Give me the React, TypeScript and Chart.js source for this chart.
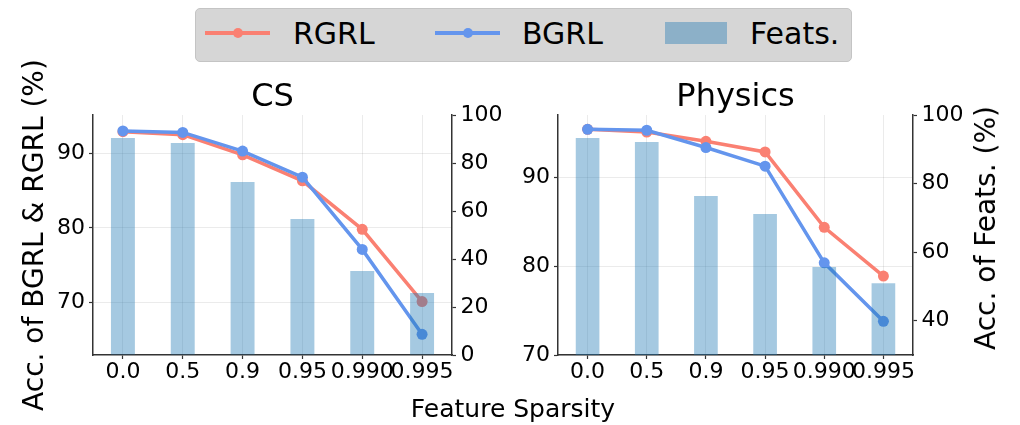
import React, { useEffect, useRef } from "react";
import { Chart, registerables } from "chart.js";

Chart.register(...registerables);

// Feature sparsity levels shared by both panels
const sparsityLabels = ["0.0", "0.5", "0.9", "0.95", "0.990", "0.995"];

// CS dataset
const csRGRL = [92.9, 92.5, 89.8, 86.3, 79.8, 70.1];
const csBGRL = [93.0, 92.8, 90.3, 86.8, 77.1, 65.7];
const csFeats = [90.4, 88.3, 72.1, 56.7, 35.0, 25.8];

// Physics dataset
const physicsRGRL = [95.45, 95.15, 94.1, 92.9, 84.4, 78.9];
const physicsBGRL = [95.45, 95.35, 93.4, 91.3, 80.4, 73.8];
const physicsFeats = [93.3, 92.1, 76.4, 71.1, 55.7, 50.9];

const FONT = "'DejaVu Sans', sans-serif";
const RGRL_COLOR = "#fa8072";
const BGRL_COLOR = "#6495ed";
const FEATS_COLOR = "rgba(31, 119, 180, 0.4)";
const AXIS_COLOR = "#333333";
const GRID_COLOR = "rgba(0, 0, 0, 0.08)";

const CANVAS_HEIGHT = 425;

type PanelSpec = {
  title: string;
  rgrl: number[];
  bgrl: number[];
  feats: number[];
  accRange: [number, number];
  featRange: [number, number];
  leftWidth: number;
  rightWidth: number;
  leftTitle?: string;
};

const panels: { spec: PanelSpec; left: number; width: number }[] = [
  {
    left: 0,
    width: 505,
    spec: {
      title: "CS",
      rgrl: csRGRL,
      bgrl: csBGRL,
      feats: csFeats,
      accRange: [62.93, 95.14],
      featRange: [0, 100],
      leftWidth: 93,
      rightWidth: 53,
      leftTitle: "Acc. of BGRL & RGRL (%)",
    },
  },
  {
    left: 505,
    width: 515,
    spec: {
      title: "Physics",
      rgrl: physicsRGRL,
      bgrl: physicsBGRL,
      feats: physicsFeats,
      accRange: [70, 97.07],
      featRange: [30, 100],
      leftWidth: 53,
      rightWidth: 107,
    },
  },
];

function lineDataset(label: string, data: number[], color: string, order: number) {
  return {
    type: "line" as const,
    label,
    data,
    yAxisID: "y",
    borderColor: color,
    backgroundColor: color,
    borderWidth: 3.5,
    pointRadius: 5.5,
    pointBackgroundColor: color,
    pointBorderWidth: 0,
    tension: 0,
    order,
  };
}

function buildConfig(spec: PanelSpec): any {
  const tickFont = { family: FONT, size: 22 };
  return {
    type: "bar",
    data: {
      labels: sparsityLabels,
      datasets: [
        {
          type: "bar",
          label: "Feats.",
          data: spec.feats,
          yAxisID: "y1",
          backgroundColor: FEATS_COLOR,
          borderWidth: 0,
          categoryPercentage: 1,
          barPercentage: 0.4,
          order: 0,
        },
        lineDataset("BGRL", spec.bgrl, BGRL_COLOR, 1),
        lineDataset("RGRL", spec.rgrl, RGRL_COLOR, 2),
      ],
    },
    options: {
      animation: false,
      responsive: false,
      maintainAspectRatio: false,
      layout: { padding: 0 },
      plugins: {
        legend: { display: false },
        tooltip: { enabled: false },
        title: {
          display: true,
          text: spec.title,
          fullSize: false,
          color: "#000",
          font: { family: FONT, size: 32, weight: "normal", lineHeight: 1 },
          padding: { top: 81.6, bottom: 1.4 },
        },
      },
      scales: {
        x: {
          type: "category",
          offset: true,
          grid: {
            color: GRID_COLOR,
            offset: false,
            drawTicks: true,
            tickLength: 4,
            tickColor: AXIS_COLOR,
            tickWidth: 1.2,
          },
          border: { display: true, color: AXIS_COLOR, width: 1.5 },
          ticks: {
            font: tickFont,
            color: "#000",
            padding: 0,
            autoSkip: false,
            maxRotation: 0,
            minRotation: 0,
          },
          afterFit: (s: any) => {
            s.height = 70;
          },
        },
        y: {
          type: "linear",
          position: "left",
          min: spec.accRange[0],
          max: spec.accRange[1],
          ticks: {
            stepSize: 10,
            includeBounds: false,
            font: tickFont,
            color: "#000",
            padding: 4,
          },
          grid: {
            color: GRID_COLOR,
            tickLength: 4,
            tickColor: AXIS_COLOR,
            tickWidth: 1.2,
          },
          border: { display: true, color: AXIS_COLOR, width: 1.5 },
          title: {
            display: !!spec.leftTitle,
            text: spec.leftTitle || "",
            color: "#000",
            font: { family: FONT, size: 28, lineHeight: 1.2 },
            padding: { top: 18.5, bottom: 0 },
          },
          afterFit: (s: any) => {
            s.width = spec.leftWidth;
          },
        },
        y1: {
          type: "linear",
          position: "right",
          min: spec.featRange[0],
          max: spec.featRange[1],
          ticks: {
            stepSize: 20,
            includeBounds: false,
            font: tickFont,
            color: "#000",
            padding: 4.5,
          },
          grid: {
            drawOnChartArea: false,
            tickLength: 4,
            tickColor: AXIS_COLOR,
            tickWidth: 1.2,
          },
          border: { display: true, color: AXIS_COLOR, width: 1.5 },
          afterFit: (s: any) => {
            s.width = spec.rightWidth;
          },
        },
      },
    },
  };
}

function Panel({ spec, left, width }: { spec: PanelSpec; left: number; width: number }) {
  const ref = useRef<HTMLCanvasElement>(null);
  useEffect(() => {
    if (!ref.current) return;
    const chart = new Chart(ref.current, buildConfig(spec));
    return () => chart.destroy();
  }, [spec]);
  return (
    <canvas
      ref={ref}
      width={width}
      height={CANVAS_HEIGHT}
      style={{ position: "absolute", left, top: 0, width, height: CANVAS_HEIGHT, display: "block" }}
    />
  );
}

const textStyle: React.CSSProperties = {
  position: "absolute",
  fontFamily: FONT,
  color: "#000",
  whiteSpace: "nowrap",
  lineHeight: 1,
};

function LegendLine({ x, color }: { x: number; color: string }) {
  return (
    <>
      <div
        style={{ position: "absolute", left: x, top: 30.5, width: 65, height: 4, background: color }}
      />
      <div
        style={{
          position: "absolute",
          left: x + 33 - 5,
          top: 32.5 - 5,
          width: 10,
          height: 10,
          borderRadius: "50%",
          background: color,
        }}
      />
    </>
  );
}

export default function App() {
  return (
    <div
      style={{
        position: "fixed",
        left: 0,
        top: 0,
        width: 1020,
        height: 425,
        background: "#fff",
        overflow: "hidden",
      }}
    >
      {panels.map((p) => (
        <Panel key={p.spec.title} spec={p.spec} left={p.left} width={p.width} />
      ))}

      {/* shared legend */}
      <div
        style={{
          position: "absolute",
          left: 195,
          top: 8,
          width: 655,
          height: 52,
          background: "#d6d6d6",
          border: "1px solid #c4c4c4",
          borderRadius: 5,
        }}
      />
      <LegendLine x={205} color={RGRL_COLOR} />
      <div style={{ ...textStyle, left: 293, top: 18.5, fontSize: 30 }}>RGRL</div>
      <LegendLine x={435} color={BGRL_COLOR} />
      <div style={{ ...textStyle, left: 522, top: 18.5, fontSize: 30 }}>BGRL</div>
      <div
        style={{ position: "absolute", left: 665, top: 22, width: 62, height: 22, background: FEATS_COLOR }}
      />
      <div style={{ ...textStyle, left: 750, top: 18.5, fontSize: 30 }}>Feats.</div>

      {/* shared x-axis title */}
      <div
        style={{
          ...textStyle,
          left: 513,
          top: 395.5,
          fontSize: 25,
          transform: "translateX(-50%)",
        }}
      >
        Feature Sparsity
      </div>

      {/* right-hand axis title, reading bottom to top */}
      <div
        style={{
          ...textStyle,
          left: 985.5,
          top: 227.5,
          fontSize: 28,
          transform: "translate(-50%, -50%) rotate(-90deg)",
        }}
      >
        Acc. of Feats. (%)
      </div>
    </div>
  );
}
